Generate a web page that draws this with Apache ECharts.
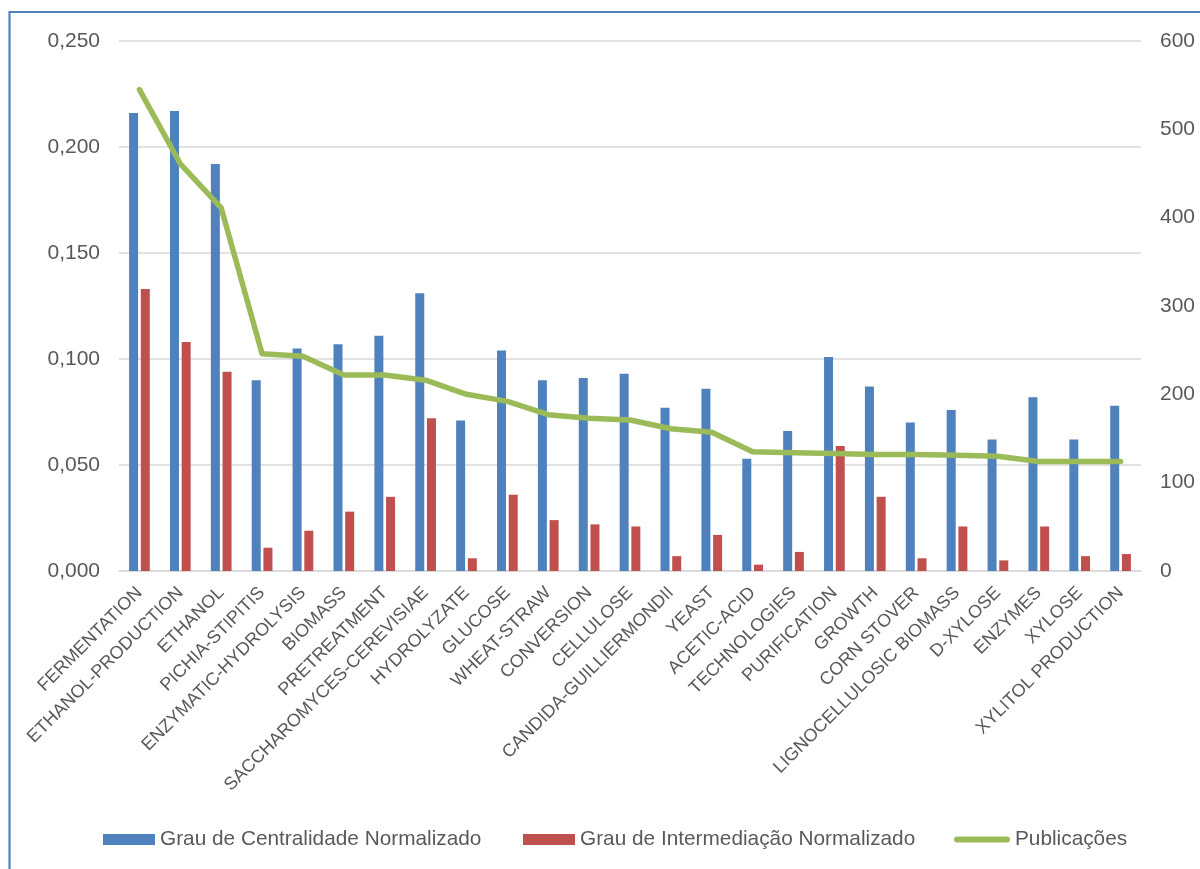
<!DOCTYPE html>
<html>
<head>
<meta charset="utf-8">
<script src="https://cdn.jsdelivr.net/npm/echarts@6/dist/echarts.min.js"></script>
<style>
  html, body { margin: 0; padding: 0; background: #ffffff; }
  #chart { width: 1200px; height: 869px; }
</style>
</head>
<body>
<div id="chart"></div>
<script>
// Keywords (categories) along the x axis
const categories = [
  'FERMENTATION', 'ETHANOL-PRODUCTION', 'ETHANOL', 'PICHIA-STIPITIS',
  'ENZYMATIC-HYDROLYSIS', 'BIOMASS', 'PRETREATMENT', 'SACCHAROMYCES-CEREVISIAE',
  'HYDROLYZATE', 'GLUCOSE', 'WHEAT-STRAW', 'CONVERSION', 'CELLULOSE',
  'CANDIDA-GUILLIERMONDII', 'YEAST', 'ACETIC-ACID', 'TECHNOLOGIES',
  'PURIFICATION', 'GROWTH', 'CORN STOVER', 'LIGNOCELLULOSIC BIOMASS',
  'D-XYLOSE', 'ENZYMES', 'XYLOSE', 'XYLITOL PRODUCTION'
];

// Normalised degree centrality (left axis)
const centralidade = [
  0.216, 0.217, 0.192, 0.090, 0.105, 0.107, 0.111, 0.131, 0.071, 0.104,
  0.090, 0.091, 0.093, 0.077, 0.086, 0.053, 0.066, 0.101, 0.087, 0.070,
  0.076, 0.062, 0.082, 0.062, 0.078
];

// Normalised betweenness (left axis)
const intermediacao = [
  0.133, 0.108, 0.094, 0.011, 0.019, 0.028, 0.035, 0.072, 0.006, 0.036,
  0.024, 0.022, 0.021, 0.007, 0.017, 0.003, 0.009, 0.059, 0.035, 0.006,
  0.021, 0.005, 0.021, 0.007, 0.008
];

// Number of publications (right axis)
const publicacoes = [
  545, 461, 411, 246, 243, 222, 222, 216, 200, 192,
  177, 173, 171, 161, 157, 135, 134, 133, 132, 132,
  131, 130, 124, 124, 124
];

const seriesNames = [
  'Grau de Centralidade Normalizado',
  'Grau de Intermediação Normalizado',
  'Publicações'
];

const FONT = '"Liberation Sans", Arial, sans-serif';
const TEXT = '#595959';
const GRID = '#D9D9D9';
const BLUE = '#4F81BD';
const RED = '#C0504D';
const GREEN = '#9BBB59';

const legendText = { fontFamily: FONT, fontSize: 20.8, color: TEXT };

// one legend block per entry so each can be placed on its own
function legendBlock(name, left, icon, w, h) {
  return {
    left: left,
    top: 829,
    padding: 0,
    itemWidth: w,
    itemHeight: h,
    itemGap: 0,
    textStyle: legendText,
    selectedMode: false,
    data: [{ name: name, icon: icon }]
  };
}

const chart = echarts.init(document.getElementById('chart'), null, { renderer: 'canvas' });

chart.setOption({
  backgroundColor: '#ffffff',
  animation: false,
  textStyle: { fontFamily: FONT, color: TEXT },
  graphic: [{
    type: 'rect',
    shape: { x: 9.5, y: 12, width: 1300, height: 1000 },
    style: { fill: 'none', stroke: BLUE, lineWidth: 2.2 },
    z: -10, silent: true
  }],
  grid: { left: 119, right: 59, top: 41, bottom: 298, containLabel: false },
  legend: [
    legendBlock(seriesNames[0], 103, 'rect', 52, 11),
    legendBlock(seriesNames[1], 523, 'rect', 52, 11),
    legendBlock(seriesNames[2], 954,
      'path://M3,0 H53 A3,3 0 0 1 53,6 H3 A3,3 0 0 1 3,0 Z', 56, 6)
  ],
  xAxis: {
    type: 'category',
    data: categories,
    axisLine: { show: true, lineStyle: { color: GRID, width: 1.5 } },
    axisTick: { show: false },
    axisLabel: {
      interval: 0,
      rotate: 45,
      margin: 19,
      fontFamily: FONT,
      fontSize: 18,
      color: TEXT
    }
  },
  yAxis: [
    {
      type: 'value',
      min: 0, max: 0.25, interval: 0.05,
      axisLine: { show: false },
      axisTick: { show: false },
      splitLine: { show: true, lineStyle: { color: GRID, width: 1.5 } },
      axisLabel: {
        margin: 19,
        fontFamily: FONT, fontSize: 21, color: TEXT,
        formatter: v => v.toFixed(3).replace('.', ',')
      }
    },
    {
      type: 'value',
      min: 0, max: 600, interval: 100,
      position: 'right',
      axisLine: { show: false },
      axisTick: { show: false },
      splitLine: { show: false },
      axisLabel: { margin: 19, fontFamily: FONT, fontSize: 21, color: TEXT }
    }
  ],
  series: [
    {
      name: seriesNames[0],
      type: 'bar',
      yAxisIndex: 0,
      data: centralidade,
      barWidth: 9,
      barGap: '30%',
      itemStyle: { color: BLUE }
    },
    {
      name: seriesNames[1],
      type: 'bar',
      yAxisIndex: 0,
      data: intermediacao,
      barWidth: 9,
      barGap: '30%',
      itemStyle: { color: RED }
    },
    {
      name: seriesNames[2],
      type: 'line',
      yAxisIndex: 1,
      data: publicacoes,
      symbol: 'none',
      lineStyle: { color: GREEN, width: 5.5, cap: 'round', join: 'round' },
      itemStyle: { color: GREEN },
      z: 5
    }
  ]
});
</script>
</body>
</html>
